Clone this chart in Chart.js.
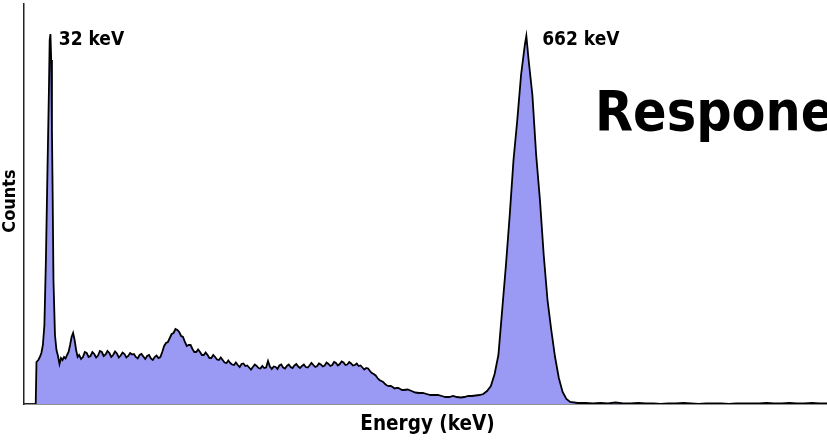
<!DOCTYPE html>
<html>
<head>
<meta charset="utf-8">
<script src="https://cdn.jsdelivr.net/npm/chart.js@4.4.1/dist/chart.umd.min.js"></script>
<style>
  html, body { margin: 0; padding: 0; background: #fff; }
  #wrap { width: 827px; height: 440px; position: relative; }
</style>
</head>
<body>
<div id="wrap"><canvas id="grafico"></canvas></div>
<script>
// energy of each channel (keV)
const energy = [
  12.5, 13.5, 16, 18, 20, 22, 24, 26, 28, 30, 31, 32, 33, 34, 35, 36, 38, 40, 42, 44,
  46, 48, 50, 52, 54, 56, 58, 60, 62, 64, 66, 68,
  70, 72.5, 75, 77.5, 80, 82.5, 85, 87.5, 90, 92.5,
  95, 97.5, 100, 102.5, 105, 107.5, 110, 112.5, 115, 117.5,
  120, 122.5, 125, 127.5, 130, 132.5, 135, 137.5, 140, 142.5,
  145, 147.5, 150, 152.5, 155, 157.5, 160, 162.5, 165, 167.5,
  170, 172.5, 175, 177.5, 180, 182.5, 185, 187.5, 190, 192.5,
  195, 197.5, 200, 202.5, 205, 207.5, 210, 212.5, 215, 217.5,
  220, 222.5, 225, 227.5, 230, 232.5, 235, 237.5, 240, 242.5,
  245, 247.5, 250, 252.5, 255, 257.5, 260, 262.5, 265, 267.5,
  270, 272.5, 275, 277.5, 280, 282.5, 285, 287.5, 290, 292.5,
  295, 297.5, 300, 302.5, 305, 307.5, 310, 312.5, 315, 317.5,
  320, 322.5, 325, 327.5, 330, 332.5, 335, 337.5, 340, 342.5,
  345, 347.5, 350, 352.5, 355, 357.5, 360, 362.5, 365, 367.5,
  370, 372.5, 375, 377.5, 380, 382.5, 385, 387.5, 390, 392.5,
  395, 397.5, 400, 402.5, 405, 407.5, 410, 412.5, 415, 417.5,
  420, 422.5, 425, 427.5, 430, 432.5, 435, 437.5, 440, 442.5,
  445, 447.5, 450, 452.5, 455, 457.5, 460, 462.5, 465, 467.5,
  470, 472.5, 475, 477.5, 480, 482.5, 485, 487.5, 490, 492.5,
  495, 497.5, 500,
  505, 510, 515, 520, 525, 530, 535, 540, 545, 550,
  555, 560, 565, 570, 575, 580, 585, 590, 595, 600,
  605, 610, 615, 620, 625, 630, 635, 640, 645, 650, 655, 660, 662,
  665, 670, 675, 680, 685, 690, 695, 700, 705, 710, 715, 720,
  730, 740, 750, 760, 770, 780, 790, 800, 810, 820,
  830, 840, 850, 860, 870, 880, 890, 900, 910, 920,
  930, 940, 950, 960, 970, 980, 990, 1000, 1010, 1020,
  1030, 1040, 1050, 1060
];

// counts
const counts = [
  0, 420, 440, 470, 510, 590, 790, 1440, 2310, 3140, 3640, 3700, 3440, 2740, 2040, 1240, 690, 540, 480, 400,
  460, 440, 470, 455, 490, 520, 590, 670, 710, 640, 540, 470,
  490, 450, 470, 520, 510, 470, 480, 520, 500, 465,
  485, 530, 520, 480, 495, 530, 510, 470, 490, 525,
  505, 465, 485, 515, 500, 465, 480, 510, 495, 500,
  470, 455, 490, 500, 475, 450, 480, 490, 455, 440,
  470, 485, 460, 470, 520, 580, 610, 620, 660, 700,
  710, 750, 740, 720, 680, 670, 620, 580, 590, 590,
  550, 520, 520, 545, 520, 490, 490, 515, 490, 460,
  460, 490, 470, 445, 440, 465, 440, 415, 410, 435,
  410, 395, 390, 415, 390, 370, 400, 405, 380, 385,
  365, 345, 370, 395, 380, 360, 355, 380, 360, 365,
  430, 375, 350, 375, 370, 350, 385, 395, 365, 355,
  380, 395, 370, 360, 385, 400, 375, 360, 380, 395,
  370, 365, 385, 410, 390, 370, 380, 405, 395, 375,
  385, 415, 400, 380, 390, 420, 410, 385, 400, 425,
  415, 390, 395, 420, 405, 385, 390, 405, 380, 385,
  365, 345, 360, 355, 330, 310, 300, 285, 260, 240,
  230, 220, 200, 185, 180, 180, 170, 155, 160, 160,
  150, 140, 140,
  145, 130, 115, 110, 110, 100, 90, 90, 90, 80,
  70, 70, 80, 70, 65, 70, 80, 80, 85, 90,
  100, 130, 180, 300, 490, 940, 1390, 1890, 2440, 2840, 3290, 3590, 3680,
  3440, 3090, 2490, 2040, 1490, 1040, 740, 470, 260, 120, 50, 20,
  10, 10, 5, 10, 5, 15, 5, 5, 10, 5,
  5, 0, 5, 5, 10, 5, 0, 5, 5, 5,
  0, 5, 5, 5, 5, 10, 5, 5, 10, 5,
  5, 10, 5, 5
];

const peakLabels = ['32 keV', '662 keV'];
const peakLabelAt = [43, 683];   // keV where each label starts
const xTitle = 'Energy (keV)';
const yTitle = 'Counts';
const heading = 'Respone';

const fam = "'DejaVu Sans Condensed', 'Liberation Sans', sans-serif";

const textos = {
  id: 'textos',
  afterDraw(chart) {
    const { ctx, chartArea, scales } = chart;
    ctx.save();
    ctx.fillStyle = '#000';
    ctx.textBaseline = 'alphabetic';

    ctx.textAlign = 'left';
    ctx.font = 'bold 19px ' + fam;
    peakLabels.forEach((t, i) => {
      ctx.fillText(t, scales.x.getPixelForValue(peakLabelAt[i]), 45);
    });

    ctx.textAlign = 'center';
    ctx.font = 'bold 20.5px ' + fam;
    ctx.fillText(xTitle, (chartArea.left + chartArea.right) / 2 + 2, 430);

    ctx.save();
    ctx.translate(15, 201);
    ctx.rotate(-Math.PI / 2);
    ctx.font = 'bold 18px ' + fam;
    ctx.fillText(yTitle, 0, 0);
    ctx.restore();

    ctx.textAlign = 'left';
    ctx.font = 'bold 55px ' + fam;
    ctx.fillText(heading, 595, 130);
    ctx.restore();
  }
};

const ctx = document.getElementById('grafico').getContext('2d');
new Chart(ctx, {
  type: 'line',
  data: {
    datasets: [{
      data: energy.map((e, i) => ({ x: e, y: counts[i] })),
      borderColor: '#000',
      borderWidth: 1.8,
      backgroundColor: '#9a9af5',
      fill: 'origin',
      tension: 0,
      pointRadius: 0
    }]
  },
  options: {
    responsive: true,
    maintainAspectRatio: false,
    animation: false,
    layout: { padding: { left: 24, top: 4, right: 0, bottom: 36 } },
    plugins: { legend: { display: false }, tooltip: { enabled: false } },
    scales: {
      x: {
        type: 'linear', min: -3, max: 1060,
        ticks: { display: false },
        grid: { display: false, drawTicks: false },
        border: { display: true, color: '#222', width: 1.5 }
      },
      y: {
        min: 0, max: 4000,
        ticks: { display: false },
        grid: { display: false, drawTicks: false },
        border: { display: true, color: '#222', width: 1.5 }
      }
    }
  },
  plugins: [textos]
});
</script>
</body>
</html>
